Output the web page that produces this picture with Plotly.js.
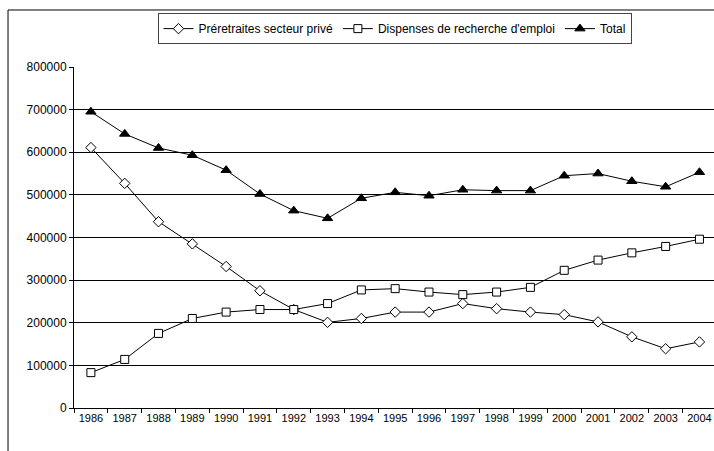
<!DOCTYPE html>
<html>
<head>
<meta charset="utf-8">
<script src="https://cdn.plot.ly/plotly-3.0.1.min.js"></script>
<style>html,body{margin:0;padding:0;background:#fff;overflow:hidden;}#chart{width:714px;height:451px;}</style>
</head>
<body>
<div id="chart"></div>
<script>
const years = ["1986","1987","1988","1989","1990","1991","1992","1993","1994","1995","1996","1997","1998","1999","2000","2001","2002","2003","2004"];
const preretraites = [611000,527000,437000,385000,332000,275000,231000,201000,210000,225000,225000,245000,233000,225000,219000,202000,167000,139000,155000];
const dispenses = [83000,114000,175000,210000,225000,231000,231000,245000,277000,280000,272000,266000,272000,283000,323000,347000,364000,379000,396000];
const total = [695000,643000,610000,593000,558000,502000,463000,445000,492000,506000,498000,512000,510000,510000,545000,550000,532000,519000,553000];
const yTicks = [0,100000,200000,300000,400000,500000,600000,700000,800000];

const fam = "Liberation Sans, Arial, sans-serif";
const font = {family: fam, size: 12, color: "#000"};

const traces = [
  {x: years, y: preretraites, name: "Préretraites secteur privé", type: "scatter", mode: "lines+markers",
   line: {color: "#000", width: 1}, marker: {symbol: "diamond", size: 8, color: "#fff", line: {color: "#000", width: 1}}},
  {x: years, y: dispenses, name: "Dispenses de recherche d'emploi", type: "scatter", mode: "lines+markers",
   line: {color: "#000", width: 1}, marker: {symbol: "square", size: 8, color: "#fff", line: {color: "#000", width: 1}}},
  {x: years, y: total, name: "Total", type: "scatter", mode: "lines+markers",
   line: {color: "#000", width: 1}, marker: {symbol: "triangle-up", size: 9, color: "#000", line: {color: "#000", width: 1}}}
];

const layout = {
  width: 714, height: 451,
  margin: {l: 74, r: 0, t: 67, b: 43},
  paper_bgcolor: "#fff", plot_bgcolor: "#fff",
  font: font,
  showlegend: true,
  legend: {orientation: "h", x: 0.5008, xanchor: "center", y: 1.158, yanchor: "top",
    bordercolor: "#444", borderwidth: 1, font: font, bgcolor: "#fff",
    itemwidth: 30, tracegroupgap: 0},
  xaxis: {type: "category", range: [-0.5, 18.43], showgrid: false, zeroline: false, showline: true, linecolor: "#000", linewidth: 1,
    ticks: "outside", ticklen: 4, tickcolor: "#000", tickson: "boundaries", tickfont: {family: fam, size: 11, color: "#000"}, fixedrange: true},
  yaxis: {range: [0, 800000], tickvals: yTicks, ticktext: yTicks.map(String), showgrid: true, gridcolor: "#000", gridwidth: 1,
    showline: true, linecolor: "#000", linewidth: 1, zeroline: false,
    ticks: "outside", ticklen: 4, tickcolor: "#000", tickfont: font, fixedrange: true},
  shapes: [
    {type: "line", xref: "paper", yref: "paper", x0: -0.1031, x1: 1.0, y0: 1.1672, y1: 1.1672, line: {color: "#000", width: 1}},
    {type: "line", xref: "paper", yref: "paper", x0: -0.1031, x1: -0.1031, y0: 1.1672, y1: -0.13, line: {color: "#000", width: 1}}
  ]
};

Plotly.newPlot("chart", traces, layout, {displayModeBar: false, staticPlot: true});
</script>
</body>
</html>
